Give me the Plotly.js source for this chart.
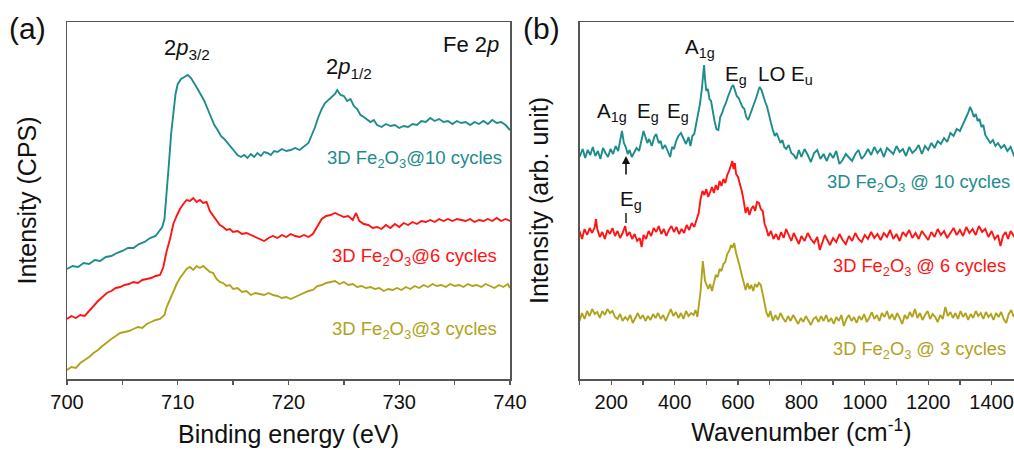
<!DOCTYPE html>
<html><head><meta charset="utf-8">
<script src="https://cdn.plot.ly/plotly-3.0.1.min.js"></script>
<style>html,body{margin:0;padding:0;overflow:hidden;background:#fff}</style>
</head><body><div id="chart" style="width:1040px;height:450px"></div>
<script>
// ---------- Panel (a): XPS Fe 2p ----------
const xpsTealX = [700,700.5,701,701.5,702,702.5,703,703.5,704,704.5,705,705.5,706,706.5,707,707.5,708,708.3,708.6,708.8,709.0,709.2,709.4,709.6,709.8,710.0,710.3,710.6,710.9,711.2,711.5,711.8,712.1,712.4,712.7,713.0,713.3,713.6,713.9,714.2,714.5,714.8,715.1,715.4,715.7,716.0,716.3,716.6,716.9,717.2,717.5,717.8,718.1,718.4,718.7,719.0,719.4,719.8,720.2,720.6,721.0,721.4,721.8,722.1,722.4,722.7,723.0,723.3,723.6,723.9,724.2,724.4,724.7,725.0,725.3,725.6,725.9,726.2,726.5,726.8,727.1,727.4,727.7,728.0,728.4,728.8,729.2,729.6,730.0,730.4,730.8,731.2,731.6,732.0,732.4,732.8,733.2,733.6,734.0,734.4,734.8,735.2,735.6,736.0,736.4,736.8,737.2,737.6,738.0,738.4,738.8,739.2,739.6,740.0];
const xpsTealY = [110,113,112,116,115,119,118,122,123,126,128,131,131,135,137,141,143,148,152,160,185,215,245,268,285,295,300,302,304,301,296,290,284,278,270,262,254,249,243,240,236,232,228,224,222,224,221,225,222,226,223,227,226,224,228,227,230,228,229,231,229,233,236,244,252,262,270,276,279,283,285,289,284,283,278,280,273,270,264,262,259,257,259,254,252,255,253,254,251,253,252,255,254,258,257,261,258,260,257,258,255,258,256,257,254,257,255,258,255,259,256,257,254,249];

const xpsRedX = [700,700.4,700.8,701.2,701.6,702.0,702.4,702.8,703.2,703.6,704.0,704.4,704.8,705.2,705.6,706.0,706.4,706.8,707.2,707.6,708.0,708.4,708.7,709.0,709.3,709.6,709.9,710.2,710.5,710.8,711.1,711.4,711.7,712.0,712.3,712.6,712.9,713.2,713.5,713.8,714.1,714.4,714.7,715.0,715.4,715.8,716.2,716.6,717.0,717.4,717.8,718.2,718.6,719.0,719.4,719.8,720.2,720.6,721.0,721.4,721.8,722.2,722.6,723.0,723.4,723.8,724.2,724.6,725.0,725.4,725.8,726.1,726.4,726.8,727.2,727.6,728.0,728.4,728.8,729.2,729.6,730.0,730.4,730.8,731.2,731.6,732.0,732.4,732.8,733.2,733.6,734.0,734.4,734.8,735.2,735.6,736.0,736.4,736.8,737.2,737.6,738.0,738.4,738.8,739.2,739.6,740.0];
const xpsRedY = [60,63,61,64,63,68,74,78,82,86,88,91,92,94,95,97,96,99,100,101,103,104,112,128,140,155,163,170,175,179,178,181,177,179,176,177,168,163,158,154,152,149,150,147,148,145,146,144,142,140,138,141,143,141,144,142,145,143,142,144,142,145,152,160,163,164,166,164,162,163,159,166,158,155,154,151,152,150,154,151,155,152,156,154,157,155,158,157,159,157,160,158,160,158,160,159,158,160,157,159,158,160,158,161,158,160,158];

const xpsOliveX = [700,700.4,700.8,701.2,701.6,702.0,702.4,702.8,703.2,703.6,704.0,704.4,704.8,705.2,705.6,706.0,706.4,706.8,707.2,707.6,708.0,708.4,708.8,709.0,709.3,709.6,709.9,710.2,710.5,710.8,711.1,711.4,711.7,712.0,712.3,712.6,712.9,713.2,713.5,713.8,714.1,714.4,714.7,715.0,715.4,715.8,716.2,716.6,717.0,717.4,717.8,718.2,718.6,719.0,719.4,719.8,720.2,720.6,721.0,721.4,721.8,722.2,722.6,723.0,723.4,723.8,724.2,724.6,725.0,725.4,725.8,726.2,726.6,727.0,727.4,727.8,728.2,728.6,729.0,729.4,729.8,730.2,730.6,731.0,731.4,731.8,732.2,732.6,733.0,733.4,733.8,734.2,734.6,735.0,735.4,735.8,736.2,736.6,737.0,737.4,737.8,738.2,738.6,739.0,739.4,739.8,740.0];
const xpsOliveY = [9,12,11,16,19,22,26,29,33,37,40,43,46,47,48,50,52,51,55,57,59,60,64,72,80,88,95,101,106,110,112,109,113,111,113,110,107,106,100,97,96,93,94,90,91,87,88,84,86,85,84,86,84,83,81,82,80,82,84,86,88,89,93,94,96,97,98,95,97,94,95,92,93,91,92,90,91,88,90,89,91,89,92,90,93,91,94,92,95,93,94,92,95,93,94,92,95,93,94,92,95,93,91,94,92,95,91];

// ---------- Panel (b): Raman ----------
const ramTealX = [100,110,118,126,134,142,150,158,166,174,182,190,198,206,214,222,228,234,240,246,252,258,265,272,280,288,295,302,308,314,320,328,336,342,350,356,362,370,378,386,392,398,405,412,420,428,436,444,450,456,462,468,474,480,486,490,493,496,500,505,510,515,520,526,532,538,544,550,556,562,568,574,580,585,590,596,602,608,614,620,626,632,638,644,650,656,662,668,674,680,686,692,698,704,710,716,722,728,734,740,746,752,760,768,776,784,792,800,810,820,830,840,850,860,870,880,890,900,910,920,930,940,950,960,970,980,990,1000,1010,1020,1030,1040,1050,1060,1070,1080,1090,1100,1110,1120,1130,1140,1150,1160,1170,1180,1190,1200,1210,1220,1230,1240,1250,1260,1270,1280,1290,1300,1310,1320,1326,1332,1338,1344,1350,1356,1362,1368,1374,1380,1388,1396,1404,1412,1420,1430,1440,1450,1460,1470,1480,1490,1500];
const ramTealY = [222,230,221,229,224,232,223,228,220,231,226,222,230,225,233,228,238,248,236,232,225,229,222,227,231,228,240,248,242,236,240,233,242,245,236,238,230,234,228,222,232,230,238,243,246,240,235,242,233,243,245,255,265,275,290,305,314,300,288,290,280,278,268,258,250,249,262,266,272,276,282,287,292,294,288,283,281,276,272,270,262,259,264,271,276,280,286,292,289,282,277,272,263,256,249,243,246,240,236,239,232,230,234,226,224,220,229,222,230,224,217,226,229,220,225,218,226,221,228,215,219,225,222,218,225,229,220,224,230,224,232,226,230,222,231,228,225,233,227,230,223,232,226,229,234,225,233,229,236,231,238,235,241,237,246,243,250,248,256,262,266,272,268,262,265,258,260,252,254,244,240,236,239,233,236,231,234,228,232,224,228,226,230];

const ramRedX = [100,108,116,124,132,140,148,152,156,164,172,180,188,196,204,212,220,228,236,244,250,258,266,274,282,290,296,302,310,318,326,334,342,350,358,366,374,382,390,398,406,414,422,430,438,446,454,462,470,476,482,488,494,500,506,512,518,524,530,536,542,548,554,560,566,572,578,582,586,590,594,600,606,612,618,624,630,636,642,648,654,660,666,672,678,684,690,696,704,712,720,728,736,744,752,760,768,776,784,792,800,810,820,830,840,850,858,866,874,882,890,900,910,920,930,940,950,960,970,980,990,1000,1010,1020,1030,1040,1050,1060,1070,1080,1090,1100,1110,1120,1130,1140,1150,1160,1170,1180,1190,1200,1210,1220,1230,1240,1250,1260,1270,1280,1290,1300,1310,1320,1330,1340,1350,1360,1370,1380,1390,1400,1410,1420,1428,1436,1444,1452,1460,1470,1480,1490,1500];
const ramRedY = [148,140,150,144,151,146,152,160,150,142,147,140,149,145,151,143,148,141,146,153,143,147,140,145,138,141,132,144,140,148,143,151,147,153,145,150,143,149,153,147,152,145,150,146,154,149,156,152,160,166,180,188,184,190,182,188,192,186,194,189,198,193,200,196,204,208,214,218,210,216,205,202,195,188,178,166,172,164,170,173,168,177,176,170,168,155,150,143,148,140,145,139,147,141,150,143,138,146,140,135,143,138,146,140,136,142,129,137,144,139,134,141,137,145,139,135,143,138,146,140,137,144,140,147,141,145,139,146,142,149,140,145,138,147,143,149,141,146,140,148,143,139,147,142,150,144,148,141,146,151,144,149,143,152,146,150,144,153,147,150,142,148,140,144,133,143,147,140,148,143,147,141,145];

const ramOliveX = [100,108,116,124,132,140,148,156,164,172,180,188,196,204,212,220,228,236,244,252,260,268,276,284,292,300,308,316,324,332,340,348,356,364,372,380,388,396,404,412,420,428,436,444,452,460,466,472,478,482,486,489,492,496,500,506,512,518,524,530,536,542,548,554,560,566,572,578,582,588,594,600,606,612,618,624,630,636,642,648,654,660,666,672,678,684,690,696,702,710,718,726,734,742,750,758,766,774,782,790,798,806,814,822,830,838,846,854,862,870,878,886,894,902,910,918,926,934,942,950,958,966,974,982,990,998,1006,1014,1022,1030,1038,1046,1054,1062,1070,1078,1086,1094,1102,1110,1118,1126,1134,1142,1150,1158,1166,1174,1182,1190,1198,1206,1214,1222,1230,1238,1246,1254,1262,1270,1278,1286,1294,1302,1310,1318,1326,1334,1342,1350,1358,1366,1374,1382,1390,1398,1406,1414,1422,1430,1438,1446,1454,1462,1470,1480,1490,1500];
const ramOliveY = [58,66,60,68,63,70,65,67,61,68,64,70,66,68,62,60,65,58,62,59,64,56,61,66,60,64,58,63,59,65,61,66,60,64,58,65,70,63,67,61,66,60,68,63,66,64,69,62,75,88,105,118,110,98,95,90,95,88,96,104,102,110,108,115,117,125,128,134,131,136,126,120,112,104,96,89,96,90,94,88,95,92,96,94,85,75,66,62,68,58,64,59,66,61,57,63,58,64,59,55,61,57,63,58,54,60,62,57,63,58,64,57,61,55,62,58,64,53,60,64,58,62,56,63,59,65,57,61,67,60,64,58,66,62,68,60,65,59,66,61,55,64,60,67,62,70,61,66,59,64,68,60,65,62,57,64,60,72,63,67,61,66,60,68,62,66,59,65,61,68,63,66,60,67,62,65,59,66,62,67,60,56,65,69,62,66,60,64];

const colTeal = '#1e8c8c', colRed = '#ff1414', colOlive = '#b0a31c';

const W = 1040, H = 450;
const fx = p => p / W, fy = p => 1 - p / H;
const FONT = 'Arial, "Liberation Sans", sans-serif';
const axColor = '#555555';

function line(x, y, c, xa, ya, name) {
  return {x, y, type: 'scatter', mode: 'lines', xaxis: xa, yaxis: ya, name,
          line: {color: c, width: 1.9}, showlegend: false, hoverinfo: 'x+y'};
}

const data = [
  line(xpsTealX, xpsTealY, colTeal, 'x', 'y', 'XPS 10 cycles'),
  line(xpsRedX, xpsRedY, colRed, 'x', 'y', 'XPS 6 cycles'),
  line(xpsOliveX, xpsOliveY, colOlive, 'x', 'y', 'XPS 3 cycles'),
  line(ramTealX, ramTealY, colTeal, 'x2', 'y2', 'Raman 10 cycles'),
  line(ramRedX, ramRedY, colRed, 'x2', 'y2', 'Raman 6 cycles'),
  line(ramOliveX, ramOliveY, colOlive, 'x2', 'y2', 'Raman 3 cycles')
];

const yDom = [1 - 379 / H, 1 - 22 / H];
const xCommon = {
  showline: true, linecolor: axColor, linewidth: 1.5, mirror: true,
  ticks: 'outside', ticklen: 4, tickwidth: 1.3, tickcolor: axColor,
  tickfont: {family: FONT, size: 20, color: '#111'},
  showgrid: false, zeroline: false, fixedrange: true,
  minor: {ticks: 'outside', ticklen: 4, tickwidth: 1.3, tickcolor: axColor, showgrid: false}
};
const yCommon = {
  showline: true, linecolor: axColor, linewidth: 1.5, mirror: true,
  ticks: '', showticklabels: false, showgrid: false, zeroline: false,
  range: [0, 357], fixedrange: true
};
const titleFont = {family: FONT, size: 25, color: '#111'};

const ann = (x, y, text, size, color, extra) => Object.assign({
  xref: 'paper', yref: 'paper', x: fx(x), y: fy(y), text, showarrow: false,
  font: {family: FONT, size, color}, xanchor: 'center', yanchor: 'middle'
}, extra || {});

const layout = {
  width: W, height: H,
  margin: {l: 0, r: 0, t: 0, b: 0},
  paper_bgcolor: '#fff', plot_bgcolor: '#fff',
  font: {family: FONT},
  xaxis: Object.assign({}, xCommon, {
    domain: [fx(67), fx(510)], range: [700, 740], dtick: 10, tick0: 700,
    minor: Object.assign({}, xCommon.minor, {dtick: 5}),
    title: {text: 'Binding energy (eV)', font: titleFont, standoff: 14}
  }),
  yaxis: Object.assign({}, yCommon, {
    domain: yDom, anchor: 'x',
    title: {text: 'Intensity (CPS)', font: titleFont, standoff: 22}
  }),
  xaxis2: Object.assign({}, xCommon, {
    domain: [fx(579.5), fx(1023.3)], range: [100, 1500], dtick: 200, tick0: 0, anchor: 'y2',
    minor: Object.assign({}, xCommon.minor, {dtick: 100}),
    title: {text: 'Wavenumber (cm<sup>-1</sup>)', font: titleFont, standoff: 12}
  }),
  yaxis2: Object.assign({}, yCommon, {
    domain: yDom, anchor: 'x2',
    title: {text: 'Intensity (arb. unit)', font: titleFont, standoff: 22}
  }),
  annotations: [
    ann(27, 29, '(a)', 30, '#111'),
    ann(541, 29, '(b)', 30, '#111'),
    ann(187, 49, '2<i>p</i><sub>3/2</sub>', 22, '#111'),
    ann(349, 68, '2<i>p</i><sub>1/2</sub>', 22, '#111'),
    ann(501, 45, 'Fe 2<i>p</i>', 22, '#111', {xanchor: 'right'}),
    ann(504, 159, '3D Fe<sub>2</sub>O<sub>3</sub>@10 cycles', 18.5, colTeal, {xanchor: 'right'}),
    ann(499, 257, '3D Fe<sub>2</sub>O<sub>3</sub>@6 cycles', 18.5, colRed, {xanchor: 'right'}),
    ann(499, 330, '3D Fe<sub>2</sub>O<sub>3</sub>@3 cycles', 18.5, colOlive, {xanchor: 'right'}),
    ann(700, 48, 'A<sub>1g</sub>', 20.5, '#111'),
    ann(736, 75, 'E<sub>g</sub>', 20.5, '#111'),
    ann(785, 75, 'LO E<sub>u</sub>', 20.5, '#111'),
    ann(612, 112, 'A<sub>1g</sub>', 20.5, '#111'),
    ann(648, 112, 'E<sub>g</sub>', 20.5, '#111'),
    ann(678, 112, 'E<sub>g</sub>', 20.5, '#111'),
    ann(631, 200, 'E<sub>g</sub>', 20.5, '#111'),
    {xref: 'paper', yref: 'paper', x: fx(626), y: fy(156), ax: 0, ay: 20, axref: 'pixel', ayref: 'pixel',
     text: '', showarrow: true, arrowhead: 2, arrowsize: 1, arrowwidth: 1.6, arrowcolor: '#111'},
    ann(1012, 183, '3D Fe<sub>2</sub>O<sub>3</sub> @ 10 cycles', 18.3, colTeal, {xanchor: 'right'}),
    ann(1008, 267, '3D Fe<sub>2</sub>O<sub>3</sub> @ 6 cycles', 18.3, colRed, {xanchor: 'right'}),
    ann(1008, 350, '3D Fe<sub>2</sub>O<sub>3</sub> @ 3 cycles', 18.3, colOlive, {xanchor: 'right'})
  ],
  shapes: [
    {type: 'line', xref: 'paper', yref: 'paper', x0: fx(626), x1: fx(626), y0: fy(213), y1: fy(223),
     line: {color: '#111', width: 1.4}}
  ]
};

Plotly.newPlot('chart', data, layout, {displayModeBar: false, staticPlot: true});
</script></body></html>
